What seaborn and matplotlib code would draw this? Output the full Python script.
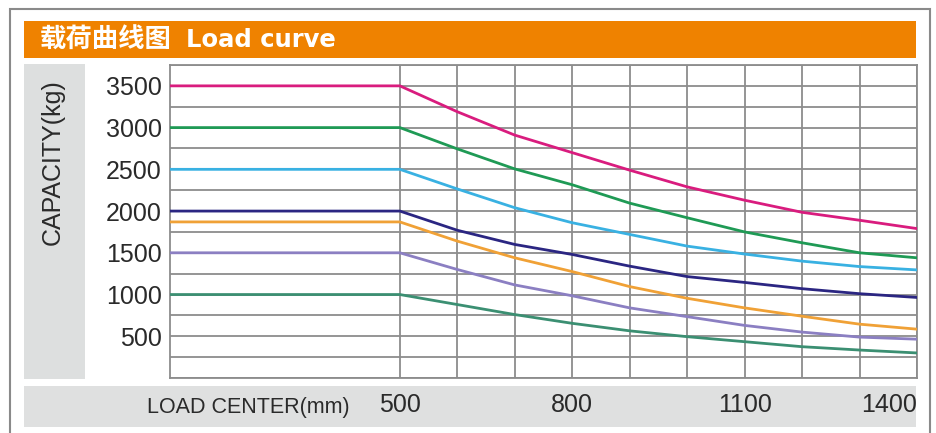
import pandas as pd
import seaborn as sns
import matplotlib
import matplotlib.pyplot as plt
from matplotlib.patches import Rectangle
from matplotlib.ticker import MultipleLocator

matplotlib.use('Agg')

# load center (mm) and capacity (kg) per model
load_center = [0, 500, 600, 700, 800, 900, 1000, 1100, 1200, 1300, 1400]
cap_3500 = [3500, 3500, 3190, 2910, 2700, 2490, 2290, 2130, 1985, 1890, 1790]
cap_3000 = [3000, 3000, 2745, 2505, 2315, 2095, 1920, 1750, 1620, 1500, 1440]
cap_2500 = [2500, 2500, 2265, 2040, 1860, 1720, 1580, 1485, 1400, 1335, 1295]
cap_2000 = [2000, 2000, 1770, 1600, 1480, 1340, 1215, 1145, 1070, 1010, 965]
cap_1870 = [1870, 1870, 1640, 1440, 1275, 1095, 955, 840, 740, 645, 585]
cap_1500 = [1500, 1500, 1300, 1115, 985, 840, 735, 630, 550, 490, 465]
cap_1000 = [1000, 1000, 880, 760, 655, 565, 495, 435, 375, 335, 300]

series = {'3500': cap_3500, '3000': cap_3000, '2500': cap_2500, '2000': cap_2000,
          '1870': cap_1870, '1500': cap_1500, '1000': cap_1000}
colors = ['#d91c7e', '#1f9a55', '#39b1e2', '#2b2682', '#f0a136', '#8b7fc2', '#3b8f72']

y_ticks = [500, 1000, 1500, 2000, 2500, 3000, 3500]
x_ticks = [500, 800, 1100, 1400]

df = pd.concat([pd.DataFrame({'load': load_center, 'cap': v, 'model': k})
                for k, v in series.items()], ignore_index=True)

sns.set_style('white')
plt.rcParams['font.family'] = ['Liberation Sans', 'DejaVu Sans']

W, H = 937, 433
fig = plt.figure(figsize=(W / 100, H / 100), dpi=100)


def fx(px):
    return px / W


def fy(py):
    return 1 - py / H


# outer frame, orange banner and gray label bands
fig.patches.append(Rectangle((fx(10), fy(460)), fx(920), fy(9) - fy(460), transform=fig.transFigure,
                             facecolor='white', edgecolor='#8a8a8a', lw=1.5, zorder=0))
fig.patches.append(Rectangle((fx(24), fy(58)), fx(892), fy(21) - fy(58), transform=fig.transFigure,
                             facecolor='#ef8200', edgecolor='none', zorder=1))
fig.patches.append(Rectangle((fx(24), fy(379)), fx(61), fy(64) - fy(379), transform=fig.transFigure,
                             facecolor='#dddfdf', edgecolor='none', zorder=1))
fig.patches.append(Rectangle((fx(24), fy(427)), fx(892), fy(386) - fy(427), transform=fig.transFigure,
                             facecolor='#dfe0e0', edgecolor='none', zorder=1))

fig.text(fx(40), fy(40), '载荷曲线图', color='white', fontsize=19, fontweight='heavy',
         va='center', ha='left', family=['Noto Sans CJK SC', 'DejaVu Sans'])
fig.text(fx(186), fy(40), 'Load curve', color='white', fontsize=17.5, fontweight='bold',
         va='center', ha='left', family=['DejaVu Sans'])
fig.text(fx(53), fy(162), 'CAPACITY(kg)', rotation=90, fontsize=18, color='#2a2a2a',
         ha='center', va='center')
fig.text(fx(248), fy(407), 'LOAD CENTER(mm)', fontsize=15.5, color='#2a2a2a',
         ha='center', va='center')

ax = fig.add_axes([fx(170), fy(378), fx(917) - fx(170), fy(65) - fy(378)])
ax.set_zorder(3)
ax.set_facecolor('white')

sns.lineplot(data=df, x='load', y='cap', hue='model', palette=colors, legend=False,
             lw=2.0, ax=ax, zorder=3)

ax.set_xlim(100, 1400)
ax.set_ylim(0, 3750)
ax.set_xticks(x_ticks)
ax.set_yticks(y_ticks)
ax.yaxis.set_minor_locator(MultipleLocator(250))
ax.set_xticks(range(500, 1400, 100), minor=True)
ax.grid(True, which='both', color='#8c8c8c', lw=1.3)
ax.set_axisbelow(True)
ax.set_xlabel('')
ax.set_ylabel('')

ax.tick_params(axis='y', which='major', length=4, width=1.2, color='#8c8c8c', pad=2,
               labelsize=18, labelcolor='#2a2a2a')
ax.tick_params(axis='y', which='minor', length=0)
ax.tick_params(axis='x', which='both', length=0, pad=11, labelsize=18, labelcolor='#2a2a2a')
ax.set_yticklabels([str(t) for t in y_ticks])
ax.set_xticklabels([str(t) for t in x_ticks])
ax.get_xticklabels()[-1].set_ha('right')

for s in ax.spines.values():
    s.set_color('#8c8c8c')
    s.set_linewidth(1.3)

fig.savefig('out.png', dpi=100)
